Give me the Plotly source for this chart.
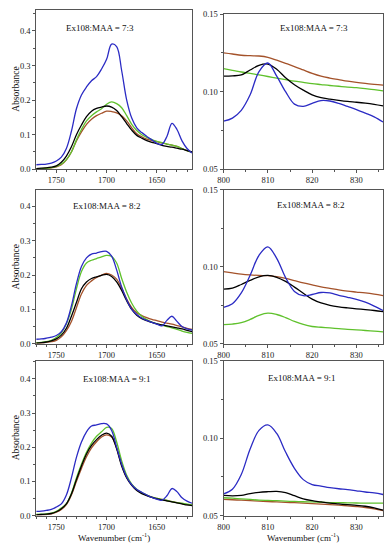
import plotly.graph_objects as go
from plotly.subplots import make_subplots

# ---------------- data ----------------
wn_carbonyl = [1770, 1765, 1760, 1755, 1750, 1745, 1740, 1735, 1730, 1725, 1720, 1715,
               1710, 1705, 1700, 1695, 1690, 1685, 1680, 1675, 1670, 1665, 1660, 1655,
               1650, 1645, 1640, 1635, 1630, 1625, 1620, 1615]
wn_low = [800, 802, 804, 806, 808, 810, 812, 814, 816, 818, 820, 822, 824, 826, 828,
          830, 832, 834, 836]

ratios = ["7:3", "8:2", "9:1"]
series_names = ["blue", "black", "green", "brown"]
colors = {"blue": "#2b2bc4", "black": "#000000", "green": "#5fc12c", "brown": "#a4522a"}

# Ex108:MAA = 7:3, carbonyl region
c73_blue = [0.013, 0.014, 0.015, 0.018, 0.024, 0.035, 0.060, 0.110, 0.175, 0.215, 0.238, 0.256,
            0.268, 0.290, 0.318, 0.362, 0.355, 0.285, 0.200, 0.148, 0.120, 0.106, 0.095, 0.085,
            0.075, 0.072, 0.095, 0.133, 0.115, 0.082, 0.060, 0.047]
c73_black = [0.002, 0.003, 0.004, 0.006, 0.010, 0.020, 0.038, 0.065, 0.100, 0.128, 0.152, 0.168,
             0.176, 0.180, 0.183, 0.180, 0.170, 0.152, 0.132, 0.113, 0.098, 0.090, 0.083, 0.078,
             0.074, 0.069, 0.066, 0.064, 0.061, 0.058, 0.054, 0.050]
c73_green = [0.002, 0.002, 0.003, 0.005, 0.008, 0.015, 0.028, 0.050, 0.085, 0.115, 0.140, 0.155,
             0.166, 0.175, 0.188, 0.195, 0.190, 0.178, 0.155, 0.130, 0.112, 0.100, 0.092, 0.086,
             0.081, 0.077, 0.073, 0.070, 0.066, 0.060, 0.054, 0.049]
c73_brown = [0.001, 0.002, 0.003, 0.004, 0.007, 0.013, 0.027, 0.050, 0.082, 0.108, 0.130, 0.145,
             0.155, 0.162, 0.168, 0.167, 0.163, 0.155, 0.140, 0.120, 0.103, 0.094, 0.087, 0.083,
             0.080, 0.076, 0.073, 0.070, 0.066, 0.060, 0.054, 0.049]

# Ex108:MAA = 8:2, carbonyl region
c82_blue = [0.013, 0.014, 0.016, 0.019, 0.024, 0.035, 0.060, 0.110, 0.175, 0.225, 0.250, 0.261,
            0.264, 0.268, 0.269, 0.255, 0.215, 0.165, 0.128, 0.100, 0.085, 0.075, 0.068, 0.062,
            0.057, 0.052, 0.068, 0.080, 0.065, 0.050, 0.043, 0.040]
c82_black = [0.002, 0.003, 0.005, 0.008, 0.014, 0.025, 0.045, 0.080, 0.120, 0.160, 0.180, 0.190,
             0.195, 0.199, 0.202, 0.196, 0.180, 0.155, 0.125, 0.100, 0.083, 0.073, 0.067, 0.062,
             0.058, 0.055, 0.052, 0.049, 0.046, 0.043, 0.039, 0.035]
c82_green = [0.003, 0.004, 0.006, 0.010, 0.018, 0.032, 0.058, 0.100, 0.160, 0.210, 0.235, 0.243,
             0.248, 0.253, 0.257, 0.254, 0.235, 0.190, 0.150, 0.118, 0.095, 0.080, 0.070, 0.063,
             0.058, 0.054, 0.050, 0.046, 0.042, 0.037, 0.033, 0.030]
c82_brown = [0.002, 0.002, 0.004, 0.006, 0.010, 0.020, 0.038, 0.065, 0.105, 0.145, 0.170, 0.183,
             0.193, 0.200, 0.205, 0.200, 0.188, 0.162, 0.130, 0.105, 0.090, 0.082, 0.076, 0.071,
             0.067, 0.063, 0.060, 0.057, 0.053, 0.049, 0.045, 0.042]

# Ex108:MAA = 9:1, carbonyl region
c91_blue = [0.012, 0.013, 0.015, 0.018, 0.025, 0.034, 0.060, 0.110, 0.170, 0.215, 0.245, 0.262,
            0.265, 0.269, 0.268, 0.249, 0.200, 0.150, 0.113, 0.090, 0.076, 0.068, 0.060, 0.053,
            0.048, 0.045, 0.058, 0.079, 0.070, 0.052, 0.042, 0.036]
c91_black = [0.002, 0.003, 0.004, 0.006, 0.011, 0.020, 0.034, 0.063, 0.105, 0.145, 0.180, 0.205,
             0.222, 0.235, 0.241, 0.232, 0.195, 0.145, 0.110, 0.088, 0.073, 0.064, 0.058, 0.053,
             0.049, 0.046, 0.043, 0.040, 0.037, 0.034, 0.031, 0.029]
c91_green = [0.003, 0.004, 0.005, 0.007, 0.012, 0.022, 0.035, 0.065, 0.110, 0.150, 0.185, 0.212,
             0.232, 0.245, 0.258, 0.255, 0.215, 0.160, 0.118, 0.092, 0.077, 0.067, 0.060, 0.054,
             0.050, 0.047, 0.044, 0.041, 0.038, 0.036, 0.033, 0.031]
c91_brown = [0.002, 0.002, 0.003, 0.005, 0.010, 0.018, 0.032, 0.060, 0.100, 0.138, 0.172, 0.198,
             0.216, 0.230, 0.236, 0.230, 0.197, 0.148, 0.112, 0.090, 0.075, 0.066, 0.059, 0.054,
             0.050, 0.047, 0.044, 0.041, 0.038, 0.035, 0.032, 0.030]

# Ex108:MAA = 7:3, 800-836 cm-1 region
l73_blue = [0.0810, 0.0830, 0.0880, 0.0980, 0.1130, 0.1185, 0.1100, 0.1000, 0.0920, 0.0905,
            0.0925, 0.0943, 0.0940, 0.0925, 0.0905, 0.0885, 0.0862, 0.0838, 0.0805]
l73_black = [0.1100, 0.1102, 0.1108, 0.1140, 0.1170, 0.1178, 0.1145, 0.1090, 0.1045, 0.1010,
             0.0980, 0.0962, 0.0952, 0.0944, 0.0937, 0.0932, 0.0926, 0.0918, 0.0908]
l73_green = [0.1148, 0.1138, 0.1127, 0.1118, 0.1108, 0.1098, 0.1088, 0.1078, 0.1068, 0.1060,
             0.1052, 0.1046, 0.1040, 0.1035, 0.1030, 0.1026, 0.1020, 0.1013, 0.1005]
l73_brown = [0.1250, 0.1243, 0.1235, 0.1232, 0.1230, 0.1222, 0.1203, 0.1183, 0.1162, 0.1140,
             0.1118, 0.1100, 0.1088, 0.1078, 0.1068, 0.1060, 0.1053, 0.1047, 0.1042]

# Ex108:MAA = 8:2, 800-836 cm-1 region
l82_blue = [0.0737, 0.0760, 0.0830, 0.0945, 0.1075, 0.1130, 0.1055, 0.0930, 0.0840, 0.0812,
            0.0820, 0.0833, 0.0830, 0.0815, 0.0802, 0.0788, 0.0770, 0.0745, 0.0716]
l82_black = [0.0855, 0.0862, 0.0885, 0.0912, 0.0935, 0.0944, 0.0932, 0.0905, 0.0868, 0.0828,
             0.0790, 0.0765, 0.0750, 0.0740, 0.0733, 0.0727, 0.0722, 0.0716, 0.0709]
l82_green = [0.0624, 0.0628, 0.0637, 0.0658, 0.0685, 0.0699, 0.0690, 0.0670, 0.0645, 0.0625,
             0.0612, 0.0607, 0.0603, 0.0598, 0.0593, 0.0590, 0.0586, 0.0582, 0.0577]
l82_brown = [0.0968, 0.0960, 0.0952, 0.0947, 0.0944, 0.0942, 0.0936, 0.0925, 0.0910, 0.0895,
             0.0882, 0.0870, 0.0860, 0.0850, 0.0842, 0.0836, 0.0830, 0.0822, 0.0812]

# Ex108:MAA = 9:1, 800-836 cm-1 region
l91_blue = [0.0640, 0.0670, 0.0765, 0.0930, 0.1050, 0.1085, 0.1030, 0.0910, 0.0805, 0.0732,
            0.0700, 0.0690, 0.0680, 0.0673, 0.0668, 0.0660, 0.0652, 0.0646, 0.0636]
l91_black = [0.0630, 0.0627, 0.0630, 0.0642, 0.0650, 0.0654, 0.0656, 0.0648, 0.0628, 0.0608,
             0.0596, 0.0588, 0.0580, 0.0575, 0.0570, 0.0566, 0.0560, 0.0550, 0.0535]
l91_green = [0.0615, 0.0612, 0.0608, 0.0604, 0.0600, 0.0598, 0.0596, 0.0593, 0.0591, 0.0589,
             0.0588, 0.0586, 0.0584, 0.0583, 0.0582, 0.0581, 0.0580, 0.0580, 0.0580]
l91_brown = [0.0605, 0.0602, 0.0599, 0.0596, 0.0593, 0.0590, 0.0588, 0.0585, 0.0583, 0.0580,
             0.0577, 0.0574, 0.0570, 0.0567, 0.0563, 0.0558, 0.0552, 0.0543, 0.0532]

carbonyl = [
    {"blue": c73_blue, "black": c73_black, "green": c73_green, "brown": c73_brown},
    {"blue": c82_blue, "black": c82_black, "green": c82_green, "brown": c82_brown},
    {"blue": c91_blue, "black": c91_black, "green": c91_green, "brown": c91_brown},
]
lowregion = [
    {"blue": l73_blue, "black": l73_black, "green": l73_green, "brown": l73_brown},
    {"blue": l82_blue, "black": l82_black, "green": l82_green, "brown": l82_brown},
    {"blue": l91_blue, "black": l91_black, "green": l91_green, "brown": l91_brown},
]

left_ticks = [1750, 1700, 1650]
right_ticks = [800, 810, 820, 830]
abs_ticks = [0.0, 0.1, 0.2, 0.3, 0.4]
abs_ticks_low = [0.05, 0.10, 0.15]

# ---------------- figure ----------------
W, H = 385, 550
FONT = "Liberation Serif"
AX = "#555555"

fig = make_subplots(rows=3, cols=2)

draw_order = ["brown", "green", "black", "blue"]
for r in range(3):
    for name in draw_order:
        fig.add_trace(go.Scatter(x=wn_carbonyl, y=carbonyl[r][name], mode="lines",
                                 line=dict(color=colors[name], width=1.3, shape="spline"),
                                 showlegend=False, hoverinfo="skip"), row=r + 1, col=1)
        fig.add_trace(go.Scatter(x=wn_low, y=lowregion[r][name], mode="lines",
                                 line=dict(color=colors[name], width=1.3, shape="spline"),
                                 showlegend=False, hoverinfo="skip"), row=r + 1, col=2)

def px_x(a, b):
    return [a / W, b / W]

def px_y(top, bottom):
    return [1 - bottom / H, 1 - top / H]

left_dom = px_x(30.7, 189)
right_dom = px_x(221, 383)
left_ydom = [px_y(5, 167.3), px_y(188.3, 345), px_y(362.3, 520)]
right_ydom = [px_y(9.3, 167.3), px_y(188.3, 345), px_y(362.3, 520)]
left_yrange = [[0, 0.461], [0, 0.448], [0, 0.453]]

common = dict(showline=True, linecolor=AX, linewidth=1, mirror=True, ticks="outside",
              ticklen=3, tickcolor=AX, showgrid=False, zeroline=False,
              tickfont=dict(family=FONT, size=8.5, color="#222222"))

for r in range(3):
    fig.update_xaxes(domain=left_dom, range=[1770, 1615], tickvals=left_ticks,
                     minor=dict(ticks="outside", ticklen=2, dtick=10, tick0=1650, tickcolor=AX),
                     row=r + 1, col=1, **common)
    fig.update_xaxes(domain=right_dom, range=[800, 836], tickvals=right_ticks,
                     minor=dict(ticks="outside", ticklen=2, dtick=5, tick0=800, tickcolor=AX),
                     row=r + 1, col=2, **common)
    fig.update_yaxes(domain=left_ydom[r], range=left_yrange[r], tickvals=abs_ticks,
                     tickformat=".1f",
                     minor=dict(ticks="outside", ticklen=2, dtick=0.05, tick0=0, tickcolor=AX),
                     row=r + 1, col=1, **common)
    fig.update_yaxes(domain=right_ydom[r], range=[0.05, 0.15], tickvals=abs_ticks_low,
                     tickformat=".2f",
                     minor=dict(ticks="outside", ticklen=2, dtick=0.025, tick0=0.05, tickcolor=AX),
                     row=r + 1, col=2, **common)

# panel labels
label_pos = [((95, 23), (313, 23)), ((103, 205), (310, 203.5)), ((112.5, 380.5), (301, 380))]
for r, ratio in enumerate(ratios):
    for (xp, yp) in label_pos[r]:
        fig.add_annotation(text=f"Ex108:MAA = {ratio}", x=xp / W, y=1 - yp / H,
                           xref="paper", yref="paper", showarrow=False,
                           xanchor="center", yanchor="middle",
                           font=dict(family=FONT, size=9, color="#111111"))

# axis titles
for yp in [86, 267, 441]:
    fig.add_annotation(text="Absorbance", x=10.5 / W, y=1 - yp / H, xref="paper",
                       yref="paper", showarrow=False, textangle=-90,
                       xanchor="center", yanchor="middle",
                       font=dict(family=FONT, size=9.5, color="#111111"))
for xp in [110, 302]:
    fig.add_annotation(text="Wavenumber (cm<sup>-1</sup>)", x=xp / W, y=1 - 542 / H,
                       xref="paper", yref="paper", showarrow=False,
                       xanchor="center", yanchor="middle",
                       font=dict(family=FONT, size=9, color="#111111"))

fig.update_layout(width=W, height=H, margin=dict(l=0, r=0, t=0, b=0),
                  paper_bgcolor="white", plot_bgcolor="white", showlegend=False)

fig.write_html("out.html", config={"displayModeBar": False},
               post_script="document.body.style.margin='0';document.body.style.padding='0';")
